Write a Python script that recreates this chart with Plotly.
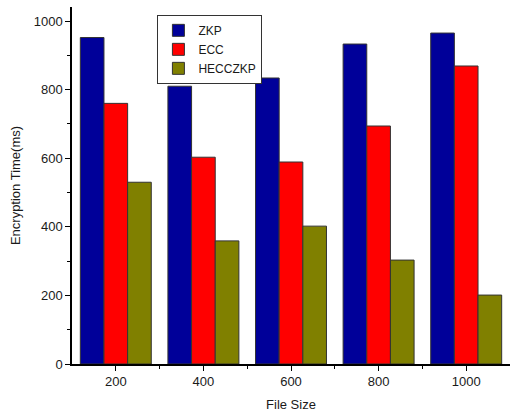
import plotly.graph_objects as go

file_sizes = ["200", "400", "600", "800", "1000"]
zkp = [952, 810, 834, 933, 965]
ecc = [760, 603, 589, 694, 869]
hecczkp = [530, 359, 402, 303, 201]

series = [("ZKP", zkp, "#000099"), ("ECC", ecc, "#FF0000"), ("HECCZKP", hecczkp, "#808000")]
xpos = list(range(len(file_sizes)))

fig = go.Figure()
for name, vals, col in series:
    fig.add_trace(go.Bar(x=xpos, y=vals, name=name, marker=dict(color=col, line=dict(color="#333333", width=1))))

font = "Liberation Sans, Arial, sans-serif"
fig.update_layout(
    width=510, height=415,
    margin=dict(l=72, r=0, t=7, b=51),
    barmode="group", bargap=0.19, bargroupgap=0,
    plot_bgcolor="white", paper_bgcolor="white",
    font=dict(family=font, size=13, color="#1a1a1a"),
    showlegend=True,
    legend=dict(x=0.195, y=0.978, xanchor="left", yanchor="top",
                bordercolor="#333333", borderwidth=1, bgcolor="white",
                font=dict(size=12, color="#1a1a1a"), tracegroupgap=0,
                itemwidth=30, traceorder="normal"),
    xaxis=dict(range=[-0.5, 4.5], tickvals=xpos, ticktext=file_sizes,
               showline=True, linecolor="black", linewidth=1.5, showgrid=False, zeroline=False,
               ticks="outside", ticklen=5, tickcolor="black",
               minor=dict(tickvals=[i + 0.5 for i in xpos[:-1]], ticks="outside", ticklen=3, tickcolor="black"),
               title=dict(text="File Size", standoff=12, font=dict(size=13))),
    yaxis=dict(range=[0, 1041], tickvals=[0, 200, 400, 600, 800, 1000],
               showline=True, linecolor="black", linewidth=1.5, showgrid=False, zeroline=False,
               ticks="outside", ticklen=5, tickcolor="black",
               minor=dict(dtick=100, ticks="outside", ticklen=3, tickcolor="black"),
               title=dict(text="Encryption Time(ms)", standoff=10, font=dict(size=13))),
)

fig.write_html("out.html")
